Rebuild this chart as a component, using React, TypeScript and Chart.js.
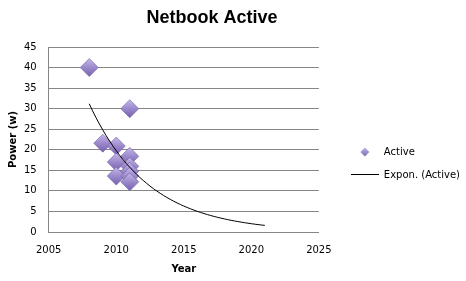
import React, { useEffect, useRef } from "react";
import { Chart, registerables } from "chart.js";

Chart.register(...registerables);

// ---- data ----
const chartTitle = "Netbook Active";
const seriesName = "Active";
const trendName = "Expon. (Active)";
const years = [2008, 2011, 2009, 2010, 2010, 2010, 2011, 2011, 2011, 2011, 2011];
const power = [40, 30, 21.6, 20.9, 17, 13.6, 18.4, 16, 14.8, 13.6, 12.2];
const trendForward = 10; // years the trendline is extended past the last point
const xTicks = [2005, 2010, 2015, 2020, 2025];
const yTicks = [0, 5, 10, 15, 20, 25, 30, 35, 40, 45];
const xTitle = "Year";
const yTitle = "Power (w)";

// exponential least-squares fit (as a spreadsheet trendline does)
function expFit(xs: number[], ys: number[]) {
  const n = xs.length;
  const ly = ys.map((v) => Math.log(v));
  const mx = xs.reduce((a, b) => a + b, 0) / n;
  const my = ly.reduce((a, b) => a + b, 0) / n;
  let sxy = 0;
  let sxx = 0;
  for (let i = 0; i < n; i++) {
    sxy += (xs[i] - mx) * (ly[i] - my);
    sxx += (xs[i] - mx) * (xs[i] - mx);
  }
  const b = sxy / sxx;
  const a = my - b * mx;
  return (x: number) => Math.exp(a + b * x);
}

const FONT = "'DejaVu Sans', Verdana, sans-serif";

export default function App() {
  const ref = useRef<HTMLCanvasElement | null>(null);

  useEffect(() => {
    if (!ref.current) return;
    const fit = expFit(years, power);
    const x0 = Math.min(...years);
    const x1 = Math.max(...years) + trendForward;
    const trend: { x: number; y: number }[] = [];
    for (let x = x0; x <= x1 + 1e-9; x += 0.25) trend.push({ x, y: fit(x) });

    // legend marker images
    const diamond = document.createElement("canvas");
    diamond.width = 10;
    diamond.height = 10;
    {
      const c = diamond.getContext("2d")!;
      const g = c.createLinearGradient(0, 0, 0, 10);
      g.addColorStop(0, "#c2b6e6");
      g.addColorStop(1, "#7a66b0");
      c.fillStyle = g;
      c.beginPath();
      c.moveTo(5, 0.5);
      c.lineTo(9.5, 5);
      c.lineTo(5, 9.5);
      c.lineTo(0.5, 5);
      c.closePath();
      c.fill();
    }
    const lineImg = document.createElement("canvas");
    lineImg.width = 28;
    lineImg.height = 2;
    {
      const c = lineImg.getContext("2d")!;
      c.fillStyle = "#000";
      c.fillRect(0, 0, 28, 1);
    }

    const titleShift = {
      id: "titleShift",
      afterLayout(chart: any) {
        const t = chart.titleBlock;
        if (t) t.right = t.right - 49;
      },
    };

    const chart = new Chart(ref.current, {
      type: "scatter",
      data: {
        datasets: [
          {
            label: seriesName,
            data: years.map((x, i) => ({ x, y: power[i] })),
            pointStyle: "rectRot",
            pointRadius: 9,
            pointHoverRadius: 9,
            borderWidth: 0.6,
            borderColor: "#6f5ca3",
            backgroundColor: (ctx: any) => {
              const chartObj = ctx.chart;
              const raw = ctx.raw;
              const fallback = "#9a88c8";
              if (!raw || !chartObj.scales || !chartObj.scales.y) return fallback;
              const py = chartObj.scales.y.getPixelForValue(raw.y);
              if (!isFinite(py)) return fallback;
              const g = chartObj.ctx.createLinearGradient(0, py - 9, 0, py + 9);
              g.addColorStop(0, "#c4b8e8");
              g.addColorStop(0.5, "#9c89cc");
              g.addColorStop(1, "#7461ad");
              return g;
            },
            order: 1,
          },
          {
            label: trendName,
            type: "line",
            data: trend,
            showLine: true,
            borderColor: "#000000",
            borderWidth: 1,
            pointRadius: 0,
            pointHoverRadius: 0,
            fill: false,
            tension: 0,
            order: 0,
          } as any,
        ],
      },
      options: {
        animation: false,
        responsive: false,
        maintainAspectRatio: false,
        layout: { padding: { left: 3, right: -4, top: 0, bottom: 4 } },
        plugins: {
          tooltip: { enabled: false },
          title: {
            display: true,
            text: chartTitle,
            color: "#000",
            font: { family: "'Liberation Sans', Arial, sans-serif", size: 18, weight: "bold" },
            padding: { top: 7, bottom: 18.4 },
          },
          legend: {
            display: true,
            position: "right",
            maxWidth: 220,
            title: {
              display: true,
              text: " ",
              font: { family: FONT, size: 10 },
              padding: { top: 0, bottom: 38 },
            },
            labels: {
              color: "#000",
              font: { family: FONT, size: 10 },
              usePointStyle: true,
              pointStyleWidth: 28,
              padding: 13,
              sort: (a: any, b: any) => a.datasetIndex - b.datasetIndex,
              generateLabels: (ch: any) => {
                const items = Chart.defaults.plugins.legend.labels.generateLabels(ch);
                return items.map((it: any) => ({
                  ...it,
                  pointStyle: it.datasetIndex === 0 ? diamond : lineImg,
                  lineWidth: 0,
                }));
              },
            },
          },
        },
        scales: {
          x: {
            type: "linear",
            min: xTicks[0],
            max: xTicks[xTicks.length - 1],
            afterBuildTicks: (s: any) => {
              s.ticks = xTicks.map((v) => ({ value: v }));
            },
            ticks: {
              color: "#000",
              font: { family: FONT, size: 10 },
              padding: 12,
              maxRotation: 0,
              callback: (v: any) => String(v),
            },
            grid: { display: false, drawTicks: false },
            border: { display: true, color: "#868686", width: 1 },
            title: {
              display: true,
              text: xTitle,
              color: "#000",
              font: { family: FONT, size: 10, weight: "bold" },
              padding: { top: -5, bottom: 2 },
            },
          },
          y: {
            type: "linear",
            min: yTicks[0],
            max: yTicks[yTicks.length - 1],
            afterBuildTicks: (s: any) => {
              s.ticks = yTicks.map((v) => ({ value: v }));
            },
            ticks: {
              color: "#000",
              font: { family: FONT, size: 10 },
              padding: 12,
              callback: (v: any) => String(v),
            },
            grid: { display: true, color: "#868686", drawTicks: false },
            border: { display: true, color: "#868686", width: 1 },
            title: {
              display: true,
              text: yTitle,
              color: "#000",
              font: { family: FONT, size: 10, weight: "bold" },
              padding: { top: 4, bottom: -7 },
            },
          },
          gap: {
            type: "linear",
            position: "right",
            display: true,
            min: 0,
            max: 1,
            ticks: { display: false },
            grid: { display: false, drawTicks: false },
            border: { display: false },
            afterFit: (s: any) => {
              s.width = 19;
            },
          },
        },
      },
      plugins: [titleShift],
    } as any);
    return () => chart.destroy();
  }, []);

  return (
    <div style={{ position: "fixed", left: 0, top: 0, width: 466, height: 281, background: "#fff" }}>
      <canvas ref={ref} width={466} height={281} style={{ width: 466, height: 281 }} />
    </div>
  );
}
